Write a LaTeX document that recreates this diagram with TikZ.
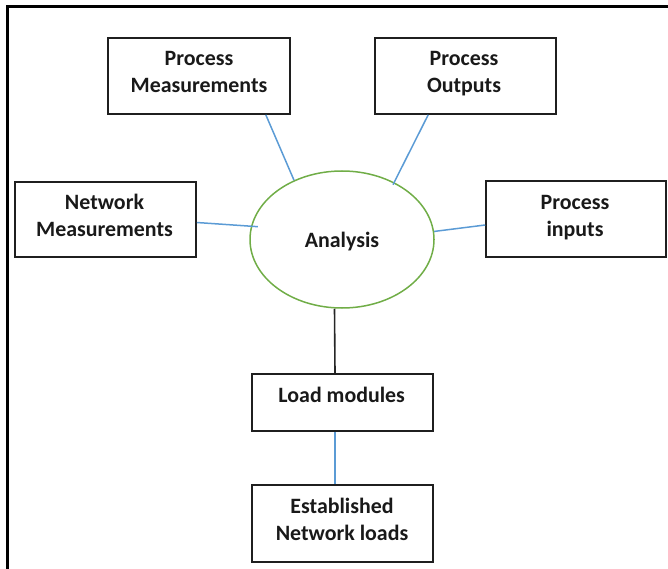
\documentclass[tikz,border=0pt]{standalone}
\usepackage{fontspec}
\setmainfont{Carlito}
\usetikzlibrary{shapes.geometric}
\definecolor{lineblue}{HTML}{5B9BD5}
\definecolor{ellgreen}{HTML}{70AD47}
\definecolor{boxgray}{HTML}{1F1F1F}
\tikzset{
  box/.style={draw=boxgray, line width=1.6pt, rectangle, inner sep=0pt},
  lbl/.style={font=\fontsize{21.9}{27}\selectfont\bfseries, align=center, inner sep=0pt, text=black!90},
  bline/.style={draw=lineblue, line width=1.5pt},
  kline/.style={draw=black!85, line width=1.6pt}
}
\begin{document}
\begin{tikzpicture}[x=1pt, y=-1pt]
\useasboundingbox (0,0) rectangle (668,569);
% outer frame (left and top edges only visible)
\draw[line width=3pt, black] (7,569) -- (7,7) -- (668,7);
% boxes
\node[box, minimum width=182pt, minimum height=76pt] (pm) at (199,76) {};
\node[box, minimum width=181pt, minimum height=76pt] (po) at (465.5,76) {};
\node[box, minimum width=181pt, minimum height=75pt] (nm) at (105.5,219.5) {};
\node[box, minimum width=180pt, minimum height=76pt] (pi) at (576,219) {};
\node[box, minimum width=181pt, minimum height=57pt] (ld) at (342.5,402.5) {};
\node[box, minimum width=181pt, minimum height=77pt] (es) at (342.5,523.5) {};
\node[ellipse, draw=ellgreen, line width=1.5pt, minimum width=184pt, minimum height=137pt, inner sep=0pt] (an) at (342,239.5) {};
% labels
\node[lbl] (pmt) at (199,72) {Process\\Measurements};
\node[lbl] (pot) at (464,73.3) {Process\\Outputs};
\node[lbl] (nmt) at (104.5,215.8) {Network\\Measurements};
\node[lbl] (pit) at (575,217.8) {Process\\inputs};
\node[lbl] (ant) at (342,241.7) {Analysis};
\node[lbl] (ldt) at (341.7,394.5) {Load modules};
\node[lbl] (est) at (342,519) {Established\\Network loads};
% connectors
\draw[bline] ([xshift=-25pt]pm.south east) -- (an.129);
\draw[bline] ([xshift=54pt]po.south west) -- ([shift={(-2pt,-2pt)}]an.47);
\draw[bline] ([yshift=-3pt]nm.east) -- ([xshift=7pt]an.172);
\draw[bline] ([yshift=-6pt]pi.west) -- (an.5);
\draw[kline] ([xshift=-7.5pt]ld.north) -- ([xshift=-7.5pt]an.south);
\draw[bline] ([xshift=-7.5pt]ld.south) -- ([xshift=-7.5pt]es.north);
\end{tikzpicture}
\end{document}
